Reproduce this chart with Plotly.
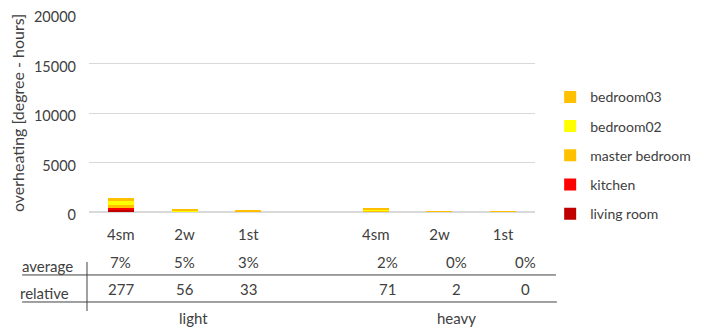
import plotly.graph_objects as go

# chart data
groups = ['light', 'heavy']
cases = ['4sm', '2w', '1st']
rooms = ['living room', 'kitchen', 'master bedroom', 'bedroom02', 'bedroom03']
room_colors = ['#C00000', '#FF0000', '#FFC000', '#FFFF00', '#FFC000']

# overheating per room, order: light 4sm, 2w, 1st, heavy 4sm, 2w, 1st
living_room = [300, 20, 10, 40, 2, 1]
kitchen = [100, 10, 5, 20, 1, 1]
master_bedroom = [300, 70, 45, 100, 8, 5]
bedroom02 = [400, 40, 25, 60, 4, 3]
bedroom03 = [300, 70, 40, 100, 8, 5]
room_values = [living_room, kitchen, master_bedroom, bedroom02, bedroom03]

average_pct = ['7%', '5%', '3%', '2%', '0%', '0%']
relative_val = ['277', '56', '33', '71', '2', '0']

# slot positions: 3 cases per group, one blank slot between groups
x_pos = []
for g in range(len(groups)):
    for c in range(len(cases)):
        x_pos.append(g * (len(cases) + 1) + c)
tick_text = cases * len(groups)

font_family = 'Lato, Open Sans, sans-serif'
txt_color = '#404040'
fs = 15

fig = go.Figure()
for i, (name, color, vals) in enumerate(zip(rooms, room_colors, room_values)):
    # top of the stack listed first in the legend
    fig.add_trace(go.Bar(x=x_pos, y=vals, name=name, marker_color=color,
                         marker_line_width=0, legendgroup=name,
                         legendrank=1000 - i))

# page body has an 8px margin, so the figure is 8px smaller than the window
fig.update_layout(
    width=693, height=320,
    barmode='stack', bargap=0.59,
    margin=dict(l=81, r=166, t=6, b=116, autoexpand=False),
    plot_bgcolor='white', paper_bgcolor='white',
    font=dict(family=font_family, size=fs, color=txt_color),
    legend=dict(x=1.034, y=0.66, xanchor='left', yanchor='top',
                traceorder='grouped', tracegroupgap=8,
                font=dict(size=14, color=txt_color)),
)
fig.update_xaxes(range=[-0.5, 6.5], tickvals=x_pos, ticktext=tick_text,
                 showgrid=False, zeroline=False, showline=False, automargin=False,
                 ticks='', ticklabelstandoff=12,
                 tickfont=dict(size=fs, color=txt_color))
fig.update_yaxes(range=[0, 20000], dtick=5000, tickformat='d', showgrid=True,
                 gridcolor='#d9d9d9', zeroline=True, zerolinecolor='#d9d9d9',
                 automargin=False, ticklabeloverflow='allow', ticklabelshift=3,
                 tickfont=dict(size=14.5, color=txt_color), ticklabelstandoff=12,
                 title=dict(text='overheating [degree - hours]', standoff=12,
                            font=dict(size=16, color=txt_color)))

# data table under the chart
ann = dict(showarrow=False, xanchor='center', yanchor='middle',
           font=dict(size=fs, color=txt_color))
for i, x in enumerate(x_pos):
    shift = 0 if i < len(cases) else 12 + 5 * (i - len(cases))
    fig.add_annotation(x=x, y=-0.2525, xref='x', yref='paper', text=average_pct[i],
                       xshift=shift, **ann)
    fig.add_annotation(x=x, y=-0.389, xref='x', yref='paper', text=relative_val[i],
                       xshift=shift, **ann)

fig.add_annotation(x=-0.092, y=-0.273, xref='paper', yref='paper', text='average', **ann)
fig.add_annotation(x=-0.099, y=-0.409, xref='paper', yref='paper', text='relative', **ann)

for g, name in enumerate(groups):
    center = x_pos[g * len(cases) + 1]
    fig.add_annotation(x=center, y=-0.535, xref='x', yref='paper', text=name,
                       xshift=9 + 8 * g, **ann)

line_style = dict(color='#404040', width=1)
fig.add_shape(type='line', xref='paper', yref='paper', x0=-0.150, x1=1.047,
              y0=-0.318, y1=-0.318, line=line_style)
fig.add_shape(type='line', xref='paper', yref='paper', x0=-0.150, x1=1.049,
              y0=-0.4545, y1=-0.4545, line=line_style)
fig.add_shape(type='line', xref='paper', yref='paper', x0=-0.0045, x1=-0.0045,
              y0=-0.2525, y1=-0.50, line=line_style)

fig.write_html('out.html')
